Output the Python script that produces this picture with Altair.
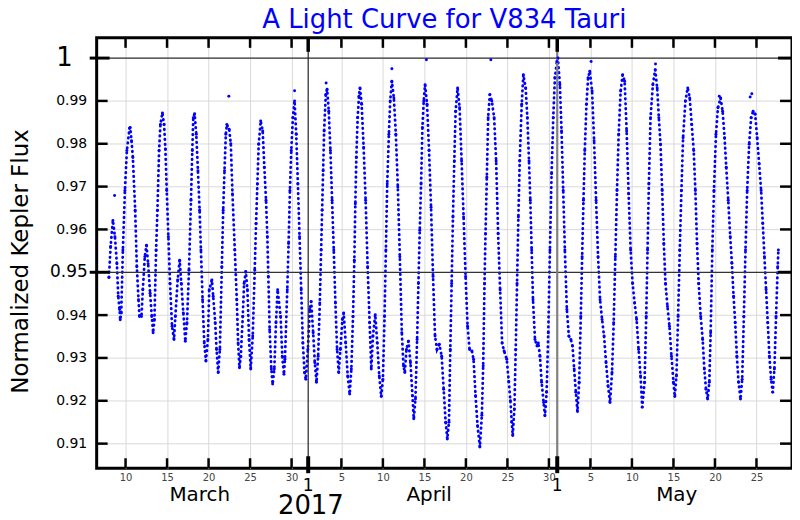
import altair as alt
import pandas as pd

# ---------------- data (day number counted from 28 Feb 2017; 1 = March 1) ----------------
time_days = [
    8.00, 8.20, 8.48, 8.72, 8.96, 9.12, 9.28, 9.36, 9.48, 9.68,
    9.92, 10.16, 10.48, 10.56, 10.72, 10.88, 11.16, 11.36, 11.56, 11.68,
    11.92, 12.08, 12.32, 12.52, 12.72, 12.96, 13.16, 13.32, 13.48, 13.68,
    13.84, 14.04, 14.20, 14.44, 14.64, 14.80, 14.96, 15.16, 15.36, 15.60,
    15.84, 16.00, 16.28, 16.52, 16.72, 16.96, 17.20, 17.40, 17.64, 17.88,
    18.04, 18.16, 18.32, 18.52, 18.72, 18.92, 19.08, 19.28, 19.48, 19.68,
    19.92, 20.08, 20.40, 20.56, 20.80, 20.96, 21.16, 21.36, 21.60, 21.76,
    21.92, 22.08, 22.20, 22.48, 22.68, 22.88, 23.16, 23.40, 23.56, 23.72,
    23.88, 24.12, 24.28, 24.48, 24.68, 24.88, 25.08, 25.32, 25.56, 25.72,
    25.88, 26.04, 26.28, 26.52, 26.72, 26.92, 27.08, 27.20, 27.36, 27.56,
    27.72, 27.92, 28.12, 28.32, 28.68, 28.88, 29.08, 29.20, 29.48, 29.64,
    29.80, 29.96, 30.16, 30.36, 30.56, 30.76, 30.96, 31.16, 31.36, 31.56,
    31.72, 31.96, 32.20, 32.36, 32.60, 32.80, 33.00, 33.20, 33.40, 33.56,
    33.68, 33.80, 33.92, 34.12, 34.28, 34.48, 34.68, 34.88, 35.08, 35.28,
    35.48, 35.68, 35.88, 36.12, 36.28, 36.52, 36.76, 37.00, 37.20, 37.40,
    37.56, 37.68, 37.80, 37.96, 38.12, 38.24, 38.44, 38.68, 38.92, 39.16,
    39.40, 39.60, 39.80, 40.08, 40.32, 40.56, 40.80, 41.00, 41.20, 41.36,
    41.52, 41.72, 41.88, 42.08, 42.32, 42.56, 42.80, 43.04, 43.28, 43.48,
    43.64, 43.84, 44.08, 44.32, 44.56, 44.72, 44.92, 45.12, 45.28, 45.44,
    45.60, 45.76, 45.92, 46.08, 46.32, 46.56, 46.80, 47.04, 47.28, 47.52,
    47.80, 48.08, 48.32, 48.56, 48.76, 48.96, 49.12, 49.28, 49.44, 49.60,
    49.76, 50.00, 50.24, 50.48, 50.72, 50.96, 51.20, 51.44, 51.72, 51.92,
    52.16, 52.40, 52.68, 52.92, 53.08, 53.24, 53.36, 53.52, 53.68, 53.88,
    54.12, 54.40, 54.64, 54.88, 55.12, 55.36, 55.60, 55.92, 56.16, 56.36,
    56.52, 56.64, 56.84, 57.00, 57.16, 57.32, 57.48, 57.72, 57.92, 58.20,
    58.40, 58.60, 58.76, 58.92, 59.08, 59.32, 59.56, 59.72, 59.92, 60.12,
    60.36, 60.52, 60.72, 60.92, 61.12, 61.32, 61.52, 61.72, 61.96, 62.08,
    62.32, 62.52, 62.72, 62.92, 63.16, 63.40, 63.64, 63.84, 64.04, 64.24,
    64.44, 64.64, 64.84, 65.00, 65.16, 65.32, 65.52, 65.72, 65.92, 66.20,
    66.44, 66.68, 66.92, 67.16, 67.40, 67.64, 67.88, 68.12, 68.36, 68.60,
    68.80, 69.00, 69.20, 69.40, 69.64, 69.88, 70.12, 70.36, 70.60, 70.84,
    71.08, 71.32, 71.56, 71.80, 72.04, 72.24, 72.52, 72.72, 72.88, 73.04,
    73.24, 73.52, 73.80, 74.04, 74.24, 74.44, 74.64, 74.84, 75.04, 75.28,
    75.52, 75.76, 76.00, 76.16, 76.36, 76.56, 76.76, 76.96, 77.16, 77.44,
    77.72, 77.96, 78.20, 78.44, 78.64, 78.84, 79.04, 79.28, 79.52, 79.72,
    79.92, 80.12, 80.32, 80.48, 80.68, 80.88, 81.12, 81.36, 81.68, 81.92,
    82.16, 82.36, 82.60, 82.84, 83.04, 83.24, 83.44, 83.64, 83.84, 84.08,
    84.28, 84.48, 84.68, 84.88, 85.12, 85.36, 85.60, 85.84, 86.08, 86.32,
    86.56, 86.76, 86.96, 87.16, 87.36, 87.56, 87.76, 87.96, 88.16, 88.36,
    88.56, 88.64,
]
flux = [
    .9488, .9560, .9621, .9583, .9520, .9444, .9413, .9389, .9405, .9552,
    .9691, .9784, .9836, .9838, .9807, .9768, .9645, .9513, .9436, .9397,
    .9397, .9459, .9536, .9563, .9520, .9451, .9397, .9359, .9390, .9552,
    .9645, .9784, .9845, .9872, .9845, .9788, .9691, .9583, .9474, .9374,
    .9343, .9397, .9482, .9528, .9474, .9405, .9339, .9382, .9505, .9668,
    .9784, .9861, .9870, .9822, .9737, .9645, .9552, .9436, .9335, .9293,
    .9343, .9459, .9482, .9444, .9382, .9320, .9266, .9320, .9513, .9645,
    .9737, .9822, .9845, .9834, .9800, .9683, .9552, .9436, .9335, .9277,
    .9304, .9397, .9474, .9502, .9459, .9343, .9274, .9351, .9505, .9614,
    .9706, .9799, .9853, .9830, .9745, .9668, .9583, .9490, .9366, .9274,
    .9239, .9274, .9382, .9459, .9397, .9304, .9262, .9297, .9459, .9567,
    .9691, .9784, .9861, .9900, .9822, .9706, .9583, .9459, .9335, .9266,
    .9250, .9320, .9413, .9432, .9359, .9289, .9243, .9304, .9428, .9552,
    .9645, .9737, .9830, .9915, .9927, .9876, .9784, .9668, .9552, .9428,
    .9320, .9266, .9320, .9390, .9405, .9335, .9258, .9216, .9274, .9397,
    .9528, .9660, .9768, .9861, .9911, .9930, .9892, .9791, .9668, .9513,
    .9382, .9274, .9351, .9401, .9335, .9258, .9210, .9250, .9397, .9552,
    .9706, .9822, .9900, .9946, .9907, .9822, .9699, .9536, .9359, .9281,
    .9266, .9320, .9339, .9289, .9212, .9158, .9204, .9343, .9474, .9598,
    .9706, .9838, .9900, .9938, .9892, .9784, .9652, .9490, .9351, .9320,
    .9332, .9304, .9227, .9150, .9111, .9150, .9320, .9474, .9629, .9760,
    .9876, .9930, .9884, .9760, .9629, .9490, .9374, .9320, .9316, .9297,
    .9212, .9142, .9092, .9166, .9281, .9474, .9590, .9722, .9861, .9915,
    .9900, .9861, .9760, .9590, .9459, .9335, .9316, .9297, .9245, .9200,
    .9150, .9119, .9181, .9320, .9474, .9629, .9760, .9892, .9961, .9930,
    .9861, .9760, .9668, .9552, .9436, .9343, .9328, .9335, .9304, .9243,
    .9196, .9165, .9220, .9359, .9552, .9730, .9861, .9954, .9992, 1.0000,
    .9938, .9830, .9691, .9552, .9413, .9351, .9343, .9328, .9274, .9220,
    .9175, .9243, .9397, .9536, .9668, .9784, .9892, .9954, .9969, .9923,
    .9807, .9668, .9536, .9436, .9390, .9351, .9289, .9235, .9196, .9266,
    .9382, .9536, .9691, .9822, .9923, .9961, .9946, .9830, .9683, .9552,
    .9474, .9428, .9390, .9320, .9258, .9185, .9243, .9397, .9552, .9706,
    .9861, .9938, .9973, .9930, .9861, .9799, .9691, .9567, .9474, .9420,
    .9374, .9304, .9243, .9210, .9258, .9397, .9552, .9691, .9814, .9900,
    .9930, .9907, .9845, .9784, .9691, .9567, .9474, .9397, .9343, .9274,
    .9227, .9204, .9243, .9359, .9552, .9691, .9822, .9884, .9907, .9876,
    .9814, .9745, .9668, .9583, .9521, .9444, .9382, .9304, .9243, .9204,
    .9250, .9397, .9552, .9691, .9799, .9861, .9876, .9869, .9814, .9753,
    .9691, .9614, .9536, .9459, .9382, .9304, .9250, .9220, .9274, .9397,
    .9513, .9552,
]
outlier_days = [8.68, 22.44, 30.36, 34.16, 42.08, 46.24, 54.00, 66.08, 73.84, 81.52, 85.24, 85.44]
outlier_flux = [.9679, .9911, .9924, .9942, .9975, .9996, .9996, .9992, .9986, .9911, .9909, .9917]

day_ticks = [10, 15, 20, 25, 30, 36, 41, 46, 51, 56, 61, 66, 71, 76, 81, 86]
month_starts = [32, 62]
month_names = ["March", "April", "May"]
month_centres = [18.94, 46.57, 76.4]
year_text = ["2017"]
year_centre = [32.32]
minor_flux = [0.91, 0.92, 0.93, 0.94, 0.96, 0.97, 0.98, 0.99]
major_flux = [1.0, 0.95]
major_flux_text = ["1", "0.95"]

# ---------------- layout ----------------
W, H = 698, 432
FONT = "DejaVu Sans"
xs = alt.Scale(domain=[6.52, 90.28], zero=False, nice=False)
ys = alt.Scale(domain=[0.90426, 1.00472], zero=False, nice=False)
BLUE = "#0000ff"

curve = pd.DataFrame({"t": time_days, "f": flux})
outl = pd.DataFrame({"t": outlier_days, "f": outlier_flux})

x_axis = alt.Axis(values=day_ticks, grid=True, gridColor="#d9d9d9", gridWidth=1,
                  ticks=False, domain=False, title=None, labelFont=FONT,
                  labelFontSize=10, labelColor="#444444", labelPadding=4,
                  labelExpr="'' + (datum.value <= 31 ? datum.value : (datum.value <= 61 ? datum.value - 31 : datum.value - 61))")
y_axis = alt.Axis(values=minor_flux + major_flux, grid=True, gridColor="#d9d9d9", gridWidth=1,
                  ticks=False, domain=False, labelFont=FONT, labelFontSize=14,
                  labelColor="black", labelPadding=10,
                  labelExpr="(datum.value > 0.9995 || (datum.value > 0.9495 && datum.value < 0.9505)) ? '' : format(datum.value, '.2f')",
                  title="Normalized Kepler Flux", titleFont=FONT, titleFontSize=23,
                  titleFontWeight="normal", titleX=-76, titleY=224, titleAngle=-90,
                  titleBaseline="middle", titleAlign="center")


def X():
    return alt.X("t:Q", scale=xs, axis=x_axis)


def Y():
    return alt.Y("f:Q", scale=ys, axis=y_axis)


line = alt.Chart(curve).mark_line(color=BLUE, strokeWidth=2.8, strokeDash=[0.5, 4.5],
                                  strokeCap="round").encode(x=X(), y=Y())
pts = alt.Chart(curve).mark_circle(color=BLUE, size=9, opacity=1).encode(x=X(), y=Y())
outs = alt.Chart(outl).mark_circle(color=BLUE, size=9, opacity=1).encode(x=X(), y=Y())

hlines = alt.Chart(pd.DataFrame({"f": major_flux})).mark_rule(color="#333333", strokeWidth=1.3).encode(y=Y())
apr_line = alt.Chart(pd.DataFrame({"t": month_starts[:1]})).mark_rule(color="#222222", strokeWidth=1.2).encode(x=X())
may_line = alt.Chart(pd.DataFrame({"t": month_starts[1:]})).mark_rule(color="#808080", strokeWidth=2.2).encode(x=X())

dt = pd.DataFrame({"t": day_ticks})
top_ticks = alt.Chart(dt).mark_rule(color="black", strokeWidth=2.5).encode(
    x=X(), y=alt.value(0), y2=alt.value(10))
bot_ticks = alt.Chart(dt).mark_rule(color="black", strokeWidth=2.5).encode(
    x=X(), y=alt.value(H - 10), y2=alt.value(H))
ms = pd.DataFrame({"t": month_starts})
top_mticks = alt.Chart(ms).mark_rule(color="black", strokeWidth=3.5).encode(
    x=X(), y=alt.value(0), y2=alt.value(14))
bot_mticks = alt.Chart(ms).mark_rule(color="black", strokeWidth=4).encode(
    x=X(), y=alt.value(H - 12), y2=alt.value(H + 5))

mf = pd.DataFrame({"f": minor_flux})
left_ticks = alt.Chart(mf).mark_rule(color="black", strokeWidth=2.5).encode(
    y=Y(), x=alt.value(0), x2=alt.value(11))
right_ticks = alt.Chart(mf).mark_rule(color="black", strokeWidth=2.5).encode(
    y=Y(), x=alt.value(W - 12), x2=alt.value(W))
Mf = pd.DataFrame({"f": major_flux, "label": major_flux_text})
left_mticks = alt.Chart(Mf).mark_rule(color="black", strokeWidth=3).encode(
    y=Y(), x=alt.value(-7), x2=alt.value(13))
right_mticks = alt.Chart(Mf).mark_rule(color="black", strokeWidth=3).encode(
    y=Y(), x=alt.value(W - 14), x2=alt.value(W))

big_one = alt.Chart(Mf.iloc[:1]).mark_text(font=FONT, fontSize=26, align="right", baseline="middle").encode(
    y=Y(), x=alt.value(-24), text="label:N")
big_095 = alt.Chart(Mf.iloc[1:]).mark_text(font=FONT, fontSize=17, align="right", baseline="middle").encode(
    y=Y(), x=alt.value(-9), text="label:N")

mn = pd.DataFrame({"t": month_centres, "label": month_names})
month_text = alt.Chart(mn).mark_text(font=FONT, fontSize=20, align="center", baseline="alphabetic").encode(
    x=X(), y=alt.value(465), text="label:N")
one_text = alt.Chart(pd.DataFrame({"t": month_starts, "label": ["1", "1"]})).mark_text(
    font=FONT, fontSize=17, align="center", baseline="alphabetic").encode(
    x=X(), y=alt.value(455), text="label:N")
year_txt = alt.Chart(pd.DataFrame({"t": year_centre, "label": year_text})).mark_text(
    font=FONT, fontSize=26, align="center", baseline="alphabetic").encode(
    x=X(), y=alt.value(478), text="label:N")

chart = alt.layer(
    line, hlines, apr_line, may_line, pts, outs,
    top_ticks, bot_ticks, top_mticks, bot_mticks,
    left_ticks, right_ticks, left_mticks, right_mticks,
    big_one, big_095, month_text, one_text, year_txt,
).properties(
    width=W, height=H,
    title=alt.TitleParams("A Light Curve for V834 Tauri", color=BLUE, fontSize=26,
                          font=FONT, fontWeight="normal", anchor="middle", offset=3),
    autosize=alt.AutoSizeParams(type="none"),
    padding={"left": 89, "top": 29, "right": 0, "bottom": 50},
).configure(background="white").configure_view(stroke="black", strokeWidth=3)

chart.save("out.html", embed_options={"renderer": "svg", "actions": False})
